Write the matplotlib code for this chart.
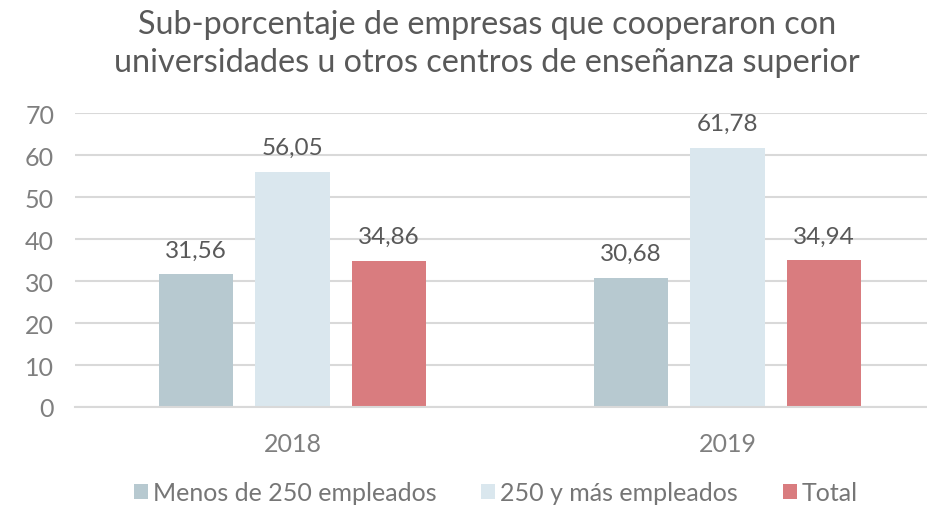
import matplotlib
matplotlib.use("Agg")
import matplotlib.pyplot as plt
import numpy as np
from matplotlib.patches import Patch

plt.rcParams['font.family'] = ['Lato', 'DejaVu Sans']

categories = ["2018", "2019"]
series_names = ["Menos de 250 empleados", "250 y más empleados", "Total"]
menos_250 = [31.56, 30.68]
mas_250 = [56.05, 61.78]
total = [34.86, 34.94]
y_ticks = [0, 10, 20, 30, 40, 50, 60, 70]
title = "Sub-porcentaje de empresas que cooperaron con\nuniversidades u otros centros de enseñanza superior"

colors = ["#B7C9D0", "#DAE7EE", "#D97C7F"]

W, H = 927, 506
fig = plt.figure(figsize=(W / 100, H / 100), dpi=100)
ax = fig.add_axes([75 / W, (H - 408) / H, (W - 75) / W, (408 - 114) / H])

x = np.arange(len(categories))
bw = 0.172
offs = [-0.222, 0.0, 0.222]
for vals, off, col, name in zip([menos_250, mas_250, total], offs, colors, series_names):
    bars = ax.bar(x + off, vals, width=bw, color=col, zorder=3, label=name)
    for b, v in zip(bars, vals):
        ax.annotate(f"{v:.2f}".replace(".", ","), (b.get_x() + b.get_width() / 2, v),
                    xytext=(0, 10), textcoords="offset points", ha="center", va="bottom",
                    fontsize=17.5, color="#595959")

ax.set_xlim(-0.5, -0.5 + (W - 75) / 435)
ax.set_ylim(0, 70)
ax.set_yticks(y_ticks)
ax.set_yticklabels([str(t) for t in y_ticks], fontsize=18, color="#7F7F7F")
ax.set_xticks(x)
ax.set_xticklabels(categories, fontsize=18, color="#7F7F7F")
ax.tick_params(axis="both", length=0)
ax.tick_params(axis="y", pad=15)
ax.tick_params(axis="x", pad=18)
ax.grid(axis="y", color="#D9D9D9", linewidth=1.5, zorder=0)
for s in ["top", "right", "left"]:
    ax.spines[s].set_visible(False)
ax.spines["bottom"].set_color("#D9D9D9")
ax.spines["bottom"].set_linewidth(1.5)
ax.spines["bottom"].set_zorder(4)

fig.text(487 / W, 1 - 44 / H, title, ha="center", va="center", fontsize=23.3,
         color="#595959", linespacing=1.35)

handles = [Patch(facecolor=c, edgecolor="none") for c in colors]
fig.legend(handles, series_names, loc="center", bbox_to_anchor=(496 / W, 1 - 494 / H),
           ncol=3, frameon=False, fontsize=18, labelcolor="#767676",
           handlelength=0.56, handleheight=0.56, handletextpad=0.2, columnspacing=1.8)

fig.savefig("out.png", dpi=100)
